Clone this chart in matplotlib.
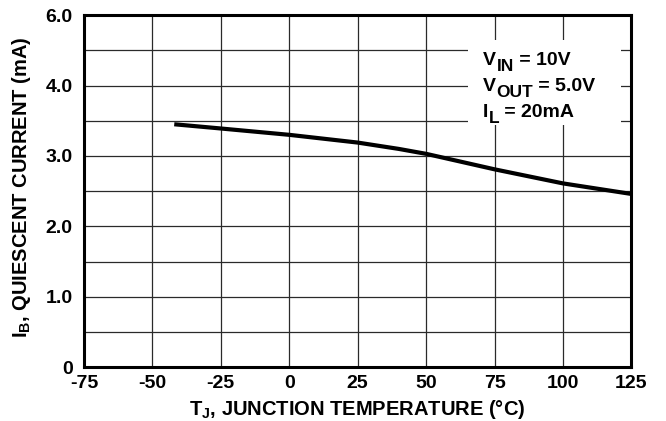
import numpy as np
import matplotlib.pyplot as plt
from matplotlib.patches import Rectangle

# Quiescent current vs junction temperature
temp_c = [-42, -25, 0, 25, 40, 50, 75, 100, 125]
iq_ma = [3.45, 3.39, 3.30, 3.19, 3.10, 3.03, 2.81, 2.61, 2.46]

x_ticks = [-75, -50, -25, 0, 25, 50, 75, 100, 125]
y_ticks = [0, 1, 2, 3, 4, 5]
# the top label really reads 6.0 in the source
y_tick_labels = ['0', '1.0', '2.0', '3.0', '4.0', '6.0']

# test conditions: (main, subscript, rest)
conditions = [('V', 'IN', ' = 10V'),
              ('V', 'OUT', ' = 5.0V'),
              ('I', 'L', ' = 20mA')]

plt.rcParams['font.family'] = ['Liberation Sans', 'DejaVu Sans']
plt.rcParams['font.weight'] = 'bold'
plt.rcParams['mathtext.fontset'] = 'custom'
plt.rcParams['mathtext.bf'] = 'Liberation Sans:bold'

fig = plt.figure(figsize=(6.66, 4.21), dpi=100)
ax = fig.add_axes([0.126, 0.128, 0.822, 0.836])

ax.plot(temp_c, iq_ma, color='black', linewidth=3, solid_capstyle='butt', zorder=3)

ax.set_xlim(-75, 125)
ax.set_ylim(0, 5)
ax.set_xticks(x_ticks)
ax.set_xticklabels([str(t) for t in x_ticks])
ax.set_yticks(y_ticks)
ax.set_yticklabels(y_tick_labels)
ax.set_yticks(np.arange(0.5, 5, 1.0), minor=True)
ax.tick_params(which='both', length=0, labelsize=14)
ax.tick_params(axis='x', pad=6)
ax.tick_params(axis='y', pad=8)

ax.grid(True, which='both', color='#2a2a2a', linewidth=0.9)
ax.set_axisbelow(True)
for s in ax.spines.values():
    s.set_linewidth(2.2)

# white patch behind the conditions, blanking the grid
ax.add_patch(Rectangle((0.701, 0.6875), 0.28, 0.241, transform=ax.transAxes,
                       facecolor='white', edgecolor='none', zorder=1))

x0 = 0.729
baselines = [0.858, 0.784, 0.71]
for (main, sub, rest), yb in zip(conditions, baselines):
    t0 = ax.annotate(main, xy=(x0, yb), xycoords='axes fraction',
                     va='baseline', ha='left', fontsize=14, fontweight='bold', zorder=4)
    t1 = ax.annotate(sub, xy=(1, yb), xycoords=(t0, 'axes fraction'),
                     xytext=(0.3, -4.5), textcoords='offset points',
                     va='baseline', ha='left', fontsize=12.5, fontweight='bold', zorder=4)
    ax.annotate(rest, xy=(1, yb), xycoords=(t1, 'axes fraction'),
                va='baseline', ha='left', fontsize=14, fontweight='bold', zorder=4)

ax.set_ylabel('$\\mathbf{I_B}$, QUIESCENT CURRENT (mA)', fontsize=14.5,
              fontweight='bold')
ax.yaxis.set_label_coords(-0.093, 0.511)
ax.set_xlabel('$\\mathbf{T_J}$, JUNCTION TEMPERATURE (°C)', fontsize=14.5,
              fontweight='bold')
ax.xaxis.set_label_coords(0.5, -0.088)

fig.savefig('out.png', dpi=100)
